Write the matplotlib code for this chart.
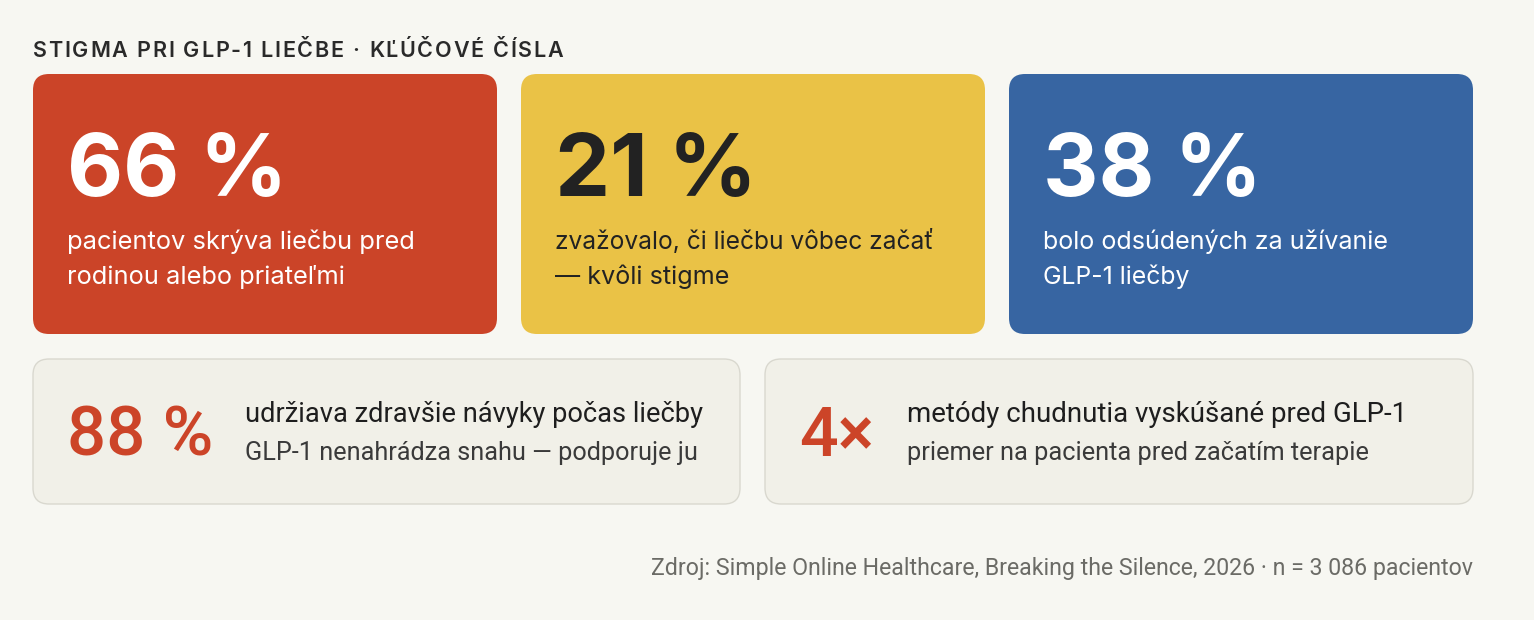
import matplotlib
matplotlib.use("Agg")
import matplotlib.pyplot as plt
from matplotlib.patches import FancyBboxPatch

W, H = 1534, 620

title = "STIGMA PRI GLP-1 LIEČBE · KĽÚČOVÉ ČÍSLA"
source = "Zdroj: Simple Online Healthcare, Breaking the Silence, 2026 · n = 3 086 pacientov"

top_values = ["66 %", "21 %", "38 %"]
top_lines = [
    ["pacientov skrýva liečbu pred", "rodinou alebo priateľmi"],
    ["zvažovalo, či liečbu vôbec začať", "— kvôli stigme"],
    ["bolo odsúdených za užívanie", "GLP-1 liečby"],
]
top_colors = ["#cb4428", "#eac246", "#3765a2"]
top_text = ["white", "#222222", "white"]

bottom_values = ["88 %", "4×"]
bottom_main = ["udržiava zdravšie návyky počas liečby", "metódy chudnutia vyskúšané pred GLP-1"]
bottom_sub = ["GLP-1 nenahrádza snahu — podporuje ju", "priemer na pacienta pred začatím terapie"]

FONT = ["Inter", "DejaVu Sans"]
NARROW = ["Roboto", "DejaVu Sans"]

fig = plt.figure(figsize=(W / 100, H / 100), dpi=100, facecolor="#f7f7f2")
ax = fig.add_axes([0, 0, 1, 1])
ax.set_xlim(0, W)
ax.set_ylim(H, 0)
ax.axis("off")
renderer = fig.canvas.get_renderer()


def fit_text(x, y, s, width, ha="left", family=FONT, **kw):
    # scale font so the drawn string is about `width` pixels wide
    t = ax.text(x, y, s, fontsize=20, ha=ha, va="baseline", family=family, **kw)
    w = t.get_window_extent(renderer).width
    t.set_fontsize(20 * width / w)
    return t


def card(x0, y0, x1, y1, fc, ec="none", r=16):
    p = FancyBboxPatch((x0, y0), x1 - x0, y1 - y0,
                       boxstyle="round,pad=0,rounding_size=%d" % r,
                       fc=fc, ec=ec, lw=1.0)
    ax.add_patch(p)


# title with letter spacing
fs_title = 15.5
widths = []
for ch in title:
    t = ax.text(0, 0, ch, fontsize=fs_title, family=FONT, weight="semibold")
    widths.append(t.get_window_extent(renderer).width if ch != " " else 0)
    t.remove()
space_w = fs_title * 100 / 72 * 0.28
natural = sum(w if w > 0 else space_w for w in widths)
track = (563 - 33 - natural) / (len(title) - 1)
xc = 33
for ch, w in zip(title, widths):
    if ch != " ":
        ax.text(xc, 57, ch, fontsize=fs_title, family=FONT, weight="semibold",
                color="#2a2a2a", va="baseline")
        xc += w + track
    else:
        xc += space_w + track

# top cards
top_x = [33, 521, 1009]
big_w = [220, 202, 219]
line_w = [[348, 278], [379, 174], [346, 147]]
for i in range(3):
    x0 = top_x[i]
    card(x0, 74, x0 + 464, 334, top_colors[i])
    fit_text(x0 + 34, 196, top_values[i], big_w[i], color=top_text[i], weight="bold")
    for j, ln in enumerate(top_lines[i]):
        fit_text(x0 + 34, 249 + 35 * j, ln, line_w[i][j], color=top_text[i])

# bottom cards
bot_x = [(33, 740), (765, 1473)]
val_w = [146, 75]
text_x = [245, 907]
main_w = [458, 498]
sub_w = [451, 461]
for i in range(2):
    x0, x1 = bot_x[i]
    card(x0, 359, x1, 504, "#f1f0e8", ec="#d9d8cf")
    fit_text(x0 + 34, 456, bottom_values[i], val_w[i], family=NARROW,
             color="#cc4428", weight="medium")
    fit_text(text_x[i], 422, bottom_main[i], main_w[i], family=NARROW, color="#1e1e1e")
    fit_text(text_x[i], 460, bottom_sub[i], sub_w[i], family=NARROW, color="#3a3a3a")

fit_text(1473, 575, source, 820, ha="right", family=NARROW, color="#6b6b66")

fig.savefig("out.png", dpi=100, facecolor=fig.get_facecolor())
